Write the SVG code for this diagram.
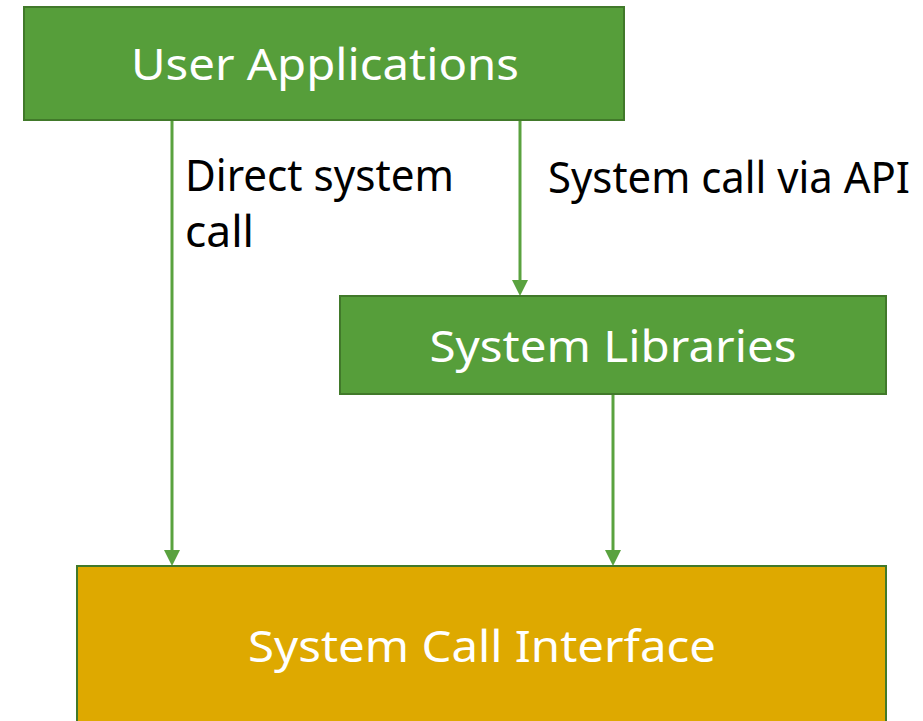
<svg xmlns="http://www.w3.org/2000/svg" width="923" height="721" viewBox="0 0 923 721">
<style>
.g{fill:#569e3a;stroke:#41792a;stroke-width:2}
.y{fill:#dea900;stroke:#41792a;stroke-width:2}
.t{font-family:"Noto Sans","Open Sans",sans-serif;font-size:44px;fill:#fff;text-anchor:middle}
.l{font-family:"Noto Sans","Open Sans",sans-serif;font-size:44px;fill:#000}
.c{stroke:#5aa23f;stroke-width:3;fill:none}
.h{fill:#5aa23f}
</style>
<g id="connectors">
<line class="c" x1="172" y1="120" x2="172" y2="552"/>
<path class="h" d="M164,550 L180,550 L172,566 Z"/>
<line class="c" x1="520" y1="120" x2="520" y2="282"/>
<path class="h" d="M512,280 L528,280 L520,296 Z"/>
<line class="c" x1="613" y1="394" x2="613" y2="552"/>
<path class="h" d="M605,550 L621,550 L613,566 Z"/>
<text class="l" x="185" y="191" textLength="269" lengthAdjust="spacingAndGlyphs">Direct system</text>
<text class="l" x="185" y="247" textLength="69" lengthAdjust="spacingAndGlyphs">call</text>
<text class="l" x="548" y="193" textLength="362" lengthAdjust="spacingAndGlyphs">System call via API</text>
</g>
<g id="user-applications">
<rect class="g" x="24" y="7" width="600" height="113"/>
<text class="t" x="325" y="80" textLength="388" lengthAdjust="spacingAndGlyphs">User Applications</text>
</g>
<g id="system-libraries">
<rect class="g" x="340" y="296" width="546" height="98"/>
<text class="t" x="613" y="362" textLength="367" lengthAdjust="spacingAndGlyphs">System Libraries</text>
</g>
<g id="system-call-interface">
<rect class="y" x="77" y="566" width="809" height="170"/>
<text class="t" x="482" y="662" textLength="468" lengthAdjust="spacingAndGlyphs">System Call Interface</text>
</g>
</svg>
